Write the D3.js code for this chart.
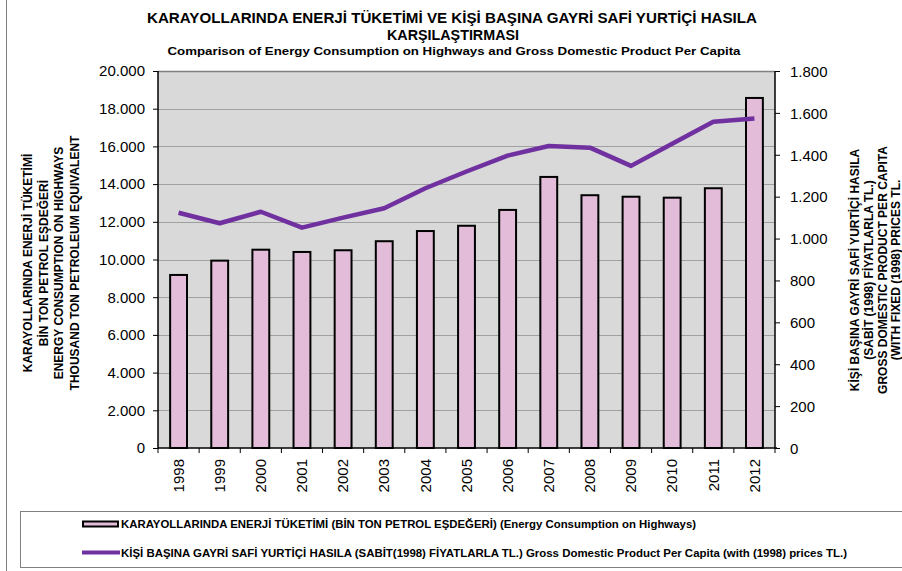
<!DOCTYPE html>
<html>
<head>
<meta charset="utf-8">
<script src="https://cdn.jsdelivr.net/npm/d3@7"></script>
<style>
  body { margin: 0; background: #fff; }
  svg { display: block; font-family: "Liberation Sans", Arial, sans-serif; }
</style>
</head>
<body>
<svg id="chart" width="902" height="571"></svg>
<script>
// data
const years = ["1998","1999","2000","2001","2002","2003","2004","2005","2006","2007","2008","2009","2010","2011","2012"];
const energy = [9180, 9940, 10520, 10400, 10490, 10970, 11510, 11790, 12630, 14380, 13410, 13330, 13280, 13780, 18570];
const gdp = [1123, 1073, 1128, 1052, 1100, 1145, 1240, 1320, 1396, 1442, 1434, 1347, 1453, 1558, 1573];
const leftTicks = [0, 2000, 4000, 6000, 8000, 10000, 12000, 14000, 16000, 18000, 20000];
const rightTicks = [0, 200, 400, 600, 800, 1000, 1200, 1400, 1600, 1800];

const titleLines = [
  "KARAYOLLARINDA ENERJİ TÜKETİMİ VE KİŞİ BAŞINA GAYRİ SAFİ YURTİÇİ HASILA",
  "KARŞILAŞTIRMASI"
];
const subtitle = "Comparison of Energy Consumption  on Highways and Gross Domestic Product Per Capita";
const leftTitle = [
  "KARAYOLLARINDA ENERJİ TÜKETİMİ",
  "BİN TON PETROL EŞDEĞERİ",
  "ENERGY CONSUMPTION ON HIGHWAYS",
  "THOUSAND TON PETROLEUM EQUIVALENT"
];
const rightTitle = [
  "KİŞİ BAŞINA GAYRİ SAFİ YURTİÇİ HASILA",
  "(SABİT (1998) FİYATLARLA TL.)",
  "GROSS DOMESTIC PRODUCT PER CAPITA",
  "(WITH FIXED (1998) PRICES TL."
];
const legendLabels = [
  "KARAYOLLARINDA ENERJİ TÜKETİMİ (BİN TON PETROL EŞDEĞERİ) (Energy Consumption on Highways)",
  "KİŞİ BAŞINA GAYRİ SAFİ YURTİÇİ HASILA (SABİT(1998) FİYATLARLA TL.) Gross Domestic Product Per Capita (with (1998) prices TL.)"
];

const fmt = d => d3.format(",")(d).replace(/,/g, ".");

const svg = d3.select("#chart");
const plot = { left: 158, right: 775, top: 71, bottom: 448 };

// outer frame line on the left
svg.append("line").attr("x1", 6.5).attr("x2", 6.5).attr("y1", 0).attr("y2", 571)
  .attr("stroke", "#808080").attr("stroke-width", 1);

// titles
svg.append("text").attr("x", 452).attr("y", 23).attr("text-anchor", "middle")
  .attr("font-size", 14).attr("font-weight", "bold")
  .attr("textLength", 610).attr("lengthAdjust", "spacingAndGlyphs")
  .text(titleLines[0]);
svg.append("text").attr("x", 453).attr("y", 40).attr("text-anchor", "middle")
  .attr("font-size", 14).attr("font-weight", "bold")
  .attr("textLength", 132).attr("lengthAdjust", "spacingAndGlyphs")
  .text(titleLines[1]);
svg.append("text").attr("x", 454).attr("y", 55).attr("text-anchor", "middle")
  .attr("font-size", 11.5).attr("font-weight", "bold")
  .attr("textLength", 573).attr("lengthAdjust", "spacingAndGlyphs")
  .text(subtitle);

const x = d3.scaleBand().domain(years).range([plot.left, plot.right]).padding(0);
const y = d3.scaleLinear().domain([0, 20000]).range([plot.bottom, plot.top]);
const y2 = d3.scaleLinear().domain([0, 1800]).range([plot.bottom, plot.top]);

// plot background
svg.append("rect").attr("x", plot.left).attr("y", plot.top)
  .attr("width", plot.right - plot.left).attr("height", plot.bottom - plot.top)
  .attr("fill", "#d9d9d9");

// gridlines
svg.append("g").selectAll("line").data(leftTicks.slice(1, -1)).join("line")
  .attr("x1", plot.left).attr("x2", plot.right)
  .attr("y1", d => Math.round(y(d)) + 0.5).attr("y2", d => Math.round(y(d)) + 0.5)
  .attr("stroke", "#a0a0a0").attr("stroke-width", 1);
svg.append("line").attr("x1", plot.left).attr("x2", plot.right)
  .attr("y1", plot.top + 0.5).attr("y2", plot.top + 0.5)
  .attr("stroke", "#808080").attr("stroke-width", 1.5);

// bars
const barW = x.bandwidth() * 0.41;
svg.append("g").selectAll("rect").data(energy).join("rect")
  .attr("x", (d, i) => x(years[i]) + (x.bandwidth() - barW) / 2)
  .attr("y", d => y(d))
  .attr("width", barW)
  .attr("height", d => plot.bottom - y(d))
  .attr("fill", "#e2bcd9").attr("stroke", "#000").attr("stroke-width", 2);

// line
const line = d3.line().x((d, i) => x(years[i]) + x.bandwidth() / 2).y(d => y2(d));
svg.append("path").datum(gdp).attr("d", line)
  .attr("fill", "none").attr("stroke", "#7030a0").attr("stroke-width", 4.5)
  .attr("stroke-linejoin", "round");

// axes
const leftAxis = svg.append("g").attr("transform", `translate(${plot.left},0)`)
  .call(d3.axisLeft(y).tickValues(leftTicks).tickFormat(fmt).tickSize(5).tickPadding(8));
const rightAxis = svg.append("g").attr("transform", `translate(${plot.right},0)`)
  .call(d3.axisRight(y2).tickValues(rightTicks).tickFormat(fmt).tickSize(5).tickPadding(10));
const bottomAxis = svg.append("g").attr("transform", `translate(0,${plot.bottom})`)
  .call(d3.axisBottom(x).tickSize(0).tickPadding(0));

[leftAxis, rightAxis, bottomAxis].forEach(g => {
  g.select(".domain").attr("stroke", "#000").attr("stroke-width", 1.5);
  g.selectAll(".tick line").attr("stroke", "#000");
  g.selectAll("text").attr("font-size", 15).attr("fill", "#000")
    .attr("font-family", "Liberation Sans, Arial, sans-serif");
});
leftAxis.select(".domain").attr("d", `M0,${plot.top}V${plot.bottom}`);
rightAxis.select(".domain").attr("d", `M0,${plot.top}V${plot.bottom}`);
bottomAxis.select(".domain").attr("d", `M${plot.left},0H${plot.right + 2}`);
rightAxis.selectAll(".tick text").attr("dy", "0.35em");

// category boundary ticks
svg.append("g").selectAll("line").data(years.concat(["end"])).join("line")
  .attr("x1", (d, i) => plot.left + i * x.step()).attr("x2", (d, i) => plot.left + i * x.step())
  .attr("y1", plot.bottom).attr("y2", plot.bottom + 5)
  .attr("stroke", "#000").attr("stroke-width", 1);

// rotated year labels
bottomAxis.selectAll(".tick text")
  .attr("transform", "rotate(-90)")
  .attr("text-anchor", "end")
  .attr("x", -11).attr("y", 0).attr("dy", "0.35em");

// left axis title
svg.append("g").attr("transform", "translate(0,263)")
  .selectAll("text").data(leftTitle).join("text")
  .attr("transform", (d, i) => `translate(${32 + i * 15.6},0) rotate(-90)`)
  .attr("text-anchor", "middle")
  .attr("font-size", 12).attr("font-weight", "bold")
  .text(d => d);

// right axis title
svg.append("g").attr("transform", "translate(0,270)")
  .selectAll("text").data(rightTitle).join("text")
  .attr("transform", (d, i) => `translate(${859 + i * 13.8},0) rotate(-90)`)
  .attr("text-anchor", "middle")
  .attr("font-size", 12).attr("font-weight", "bold")
  .text(d => d);

// legend
svg.append("rect").attr("x", 20.5).attr("y", 511.5).attr("width", 900).attr("height", 56)
  .attr("fill", "#fff").attr("stroke", "#808080").attr("stroke-width", 1);
const lg = svg.append("g");
lg.append("rect").attr("x", 83).attr("y", 521.5).attr("width", 35).attr("height", 5)
  .attr("fill", "#e2bcd9").attr("stroke", "#000").attr("stroke-width", 2);
lg.append("line").attr("x1", 82).attr("x2", 120).attr("y1", 552.5).attr("y2", 552.5)
  .attr("stroke", "#7030a0").attr("stroke-width", 4);
const legendLen = [575, 726];
lg.selectAll("text").data(legendLabels).join("text")
  .attr("x", 121)
  .attr("y", (d, i) => 528 + i * 28.5)
  .attr("font-size", 10.5).attr("font-weight", "bold")
  .attr("textLength", (d, i) => legendLen[i]).attr("lengthAdjust", "spacingAndGlyphs")
  .text(d => d);
</script>
</body>
</html>
